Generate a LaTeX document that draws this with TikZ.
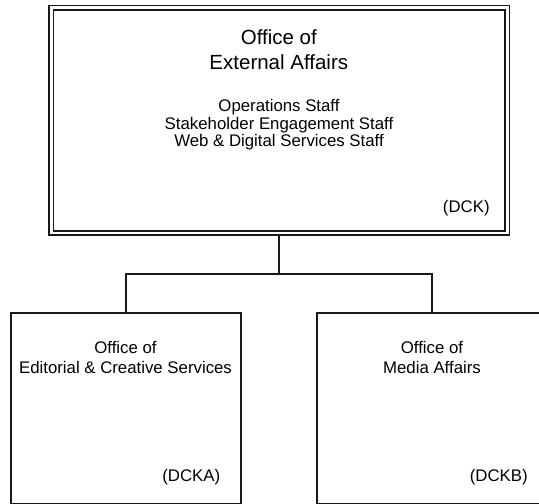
\documentclass[tikz,border=0pt]{standalone}
\usepackage{fontspec}
\setmainfont{Liberation Sans}
\begin{document}
\begin{tikzpicture}[x=1pt,y=-1pt,
  topbox/.style={draw=black!90, double=white, line width=1.8pt, double distance=2.4pt,
    minimum width=456pt, minimum height=225.4pt, inner sep=0pt, outer sep=3pt},
  unitbox/.style={draw=black!90, line width=2pt, minimum width=230pt, minimum height=191pt, inner sep=0pt},
  conn/.style={draw=black!90, line width=2pt},
  ttl/.style={inner sep=0pt, anchor=base, font=\fontsize{20.5}{25}\selectfont},
  txt/.style={inner sep=0pt, anchor=base, font=\fontsize{16.8}{20}\selectfont}]
\useasboundingbox (0,0) rectangle (539,504);
\clip (0,0) rectangle (539,504);
\fill[white] (0,0) rectangle (539,504);

% boxes
\node[topbox] (top) at (279.3,120.3) {};
\node[unitbox] (dcka) at (126,408) {};
\node[unitbox] (dckb) at (432.3,408) {};

% connectors
\coordinate (bus) at (279.3,273.5);
\draw[conn] (top.south) -- (bus);
\draw[conn] (dcka.north) |- (bus) -| (dckb.north);

% top box text
\node[ttl] (t1) at (278.8,44) {Office of};
\node[ttl] (t2) at (278.8,69.3) {External Affairs};
\node[txt] (s1) at (279,111.7) {Operations Staff};
\node[txt] (s2) at (279,129.1) {Stakeholder Engagement Staff};
\node[txt] (s3) at (279,146.5) {Web \& Digital Services Staff};
\node[txt] (c0) at (466.3,212.3) {(DCK)};

% left box text
\node[txt] (a1) at (125.5,353.3) {Office of};
\node[txt] (a2) at (125.5,373.3) {Editorial \& Creative Services};
\node[txt] (c1) at (191.3,481) {(DCKA)};

% right box text
\node[txt] (b1) at (432,353.3) {Office of};
\node[txt] (b2) at (432,373.3) {Media Affairs};
\node[txt] (c2) at (498.8,481) {(DCKB)};
\end{tikzpicture}
\end{document}
